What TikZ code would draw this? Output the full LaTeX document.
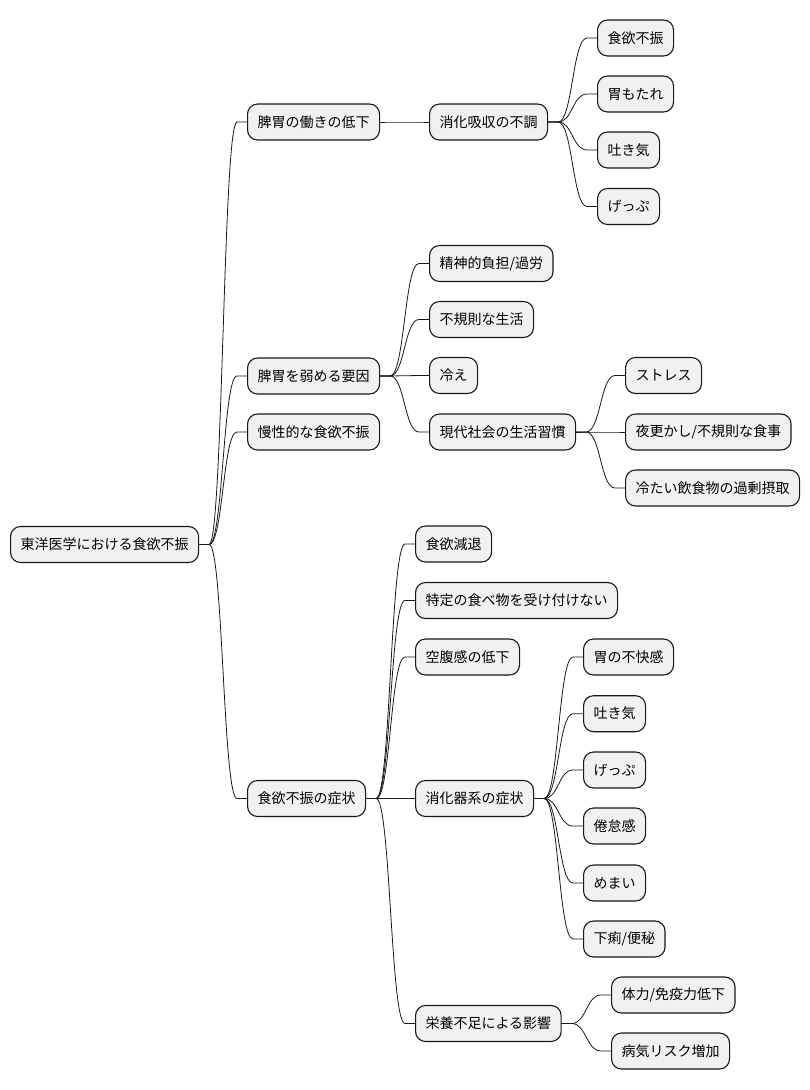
\documentclass[tikz,border=0pt]{standalone}
\usepackage{fontspec}
\setmainfont{Noto Sans CJK JP}
\usetikzlibrary{calc}
\definecolor{boxfill}{HTML}{F1F1F1}
\definecolor{lineclr}{HTML}{181818}
\tikzset{
  mm/.style={draw=lineclr, fill=boxfill, line width=1.1pt, rounded corners=10pt,
    minimum height=36pt, inner xsep=10pt, inner ysep=0pt, anchor=west,
    font=\fontsize{14}{16}\selectfont, text=black},
  conn/.style={draw=lineclr, line width=0.8pt}
}
\newcommand\mmconn[2]{%
  \path (#1.east) ++(10,0) coordinate (mmA);
  \path (#2.west) ++(-10,0) coordinate (mmB);
  \draw[conn] let \p1=(mmA), \p2=(mmB) in (#1.east) -- (\p1)
    .. controls ({(\x1+\x2)/2},\y1) and ({(\x1+\x2)/2},\y2) .. (\p2) -- (#2.west);}
\begin{document}
\begin{tikzpicture}[x=1pt,y=-1pt]
\useasboundingbox[fill=white] (0,0) rectangle (810,1090);
\node[mm] (root) at (10,544.5) {東洋医学における食欲不振};
% branch 1
\node[mm] (a) at (247,122) {脾胃の働きの低下};
\node[mm] (a1) at (429,122) {消化吸収の不調};
\node[mm] (a11) at (597,38) {食欲不振};
\node[mm] (a12) at (597,94) {胃もたれ};
\node[mm] (a13) at (597,150) {吐き気};
\node[mm] (a14) at (597,206.5) {げっぷ};
% branch 2
\node[mm] (b) at (247,376) {脾胃を弱める要因};
\node[mm] (b1) at (429,263.5) {精神的負担/過労};
\node[mm] (b2) at (429,319.5) {不規則な生活};
\node[mm] (b3) at (429,375.5) {冷え};
\node[mm] (b4) at (429,432) {現代社会の生活習慣};
\node[mm] (b41) at (625,375.5) {ストレス};
\node[mm] (b42) at (625,432) {夜更かし/不規則な食事};
\node[mm] (b43) at (625,488) {冷たい飲食物の過剰摂取};
% branch 3
\node[mm] (c) at (247,432) {慢性的な食欲不振};
% branch 4
\node[mm] (d) at (247,798.5) {食欲不振の症状};
\node[mm] (d1) at (415,544) {食欲減退};
\node[mm] (d2) at (415,600.5) {特定の食べ物を受け付けない};
\node[mm] (d3) at (415,657) {空腹感の低下};
\node[mm] (d4) at (415,798.5) {消化器系の症状};
\node[mm] (d41) at (583,657) {胃の不快感};
\node[mm] (d42) at (583,713.7) {吐き気};
\node[mm] (d43) at (583,770) {げっぷ};
\node[mm] (d44) at (583,826) {倦怠感};
\node[mm] (d45) at (583,883) {めまい};
\node[mm] (d46) at (583,939) {下痢/便秘};
\node[mm] (d5) at (415,1023.5) {栄養不足による影響};
\node[mm] (d51) at (611,995) {体力/免疫力低下};
\node[mm] (d52) at (611,1051) {病気リスク増加};
% connectors
\mmconn{root}{a}
\mmconn{root}{b}
\mmconn{root}{c}
\mmconn{root}{d}
\mmconn{a}{a1}
\mmconn{a1}{a11}
\mmconn{a1}{a12}
\mmconn{a1}{a13}
\mmconn{a1}{a14}
\mmconn{b}{b1}
\mmconn{b}{b2}
\mmconn{b}{b3}
\mmconn{b}{b4}
\mmconn{b4}{b41}
\mmconn{b4}{b42}
\mmconn{b4}{b43}
\mmconn{d}{d1}
\mmconn{d}{d2}
\mmconn{d}{d3}
\mmconn{d}{d4}
\mmconn{d}{d5}
\mmconn{d4}{d41}
\mmconn{d4}{d42}
\mmconn{d4}{d43}
\mmconn{d4}{d44}
\mmconn{d4}{d45}
\mmconn{d4}{d46}
\mmconn{d5}{d51}
\mmconn{d5}{d52}
\end{tikzpicture}
\end{document}
